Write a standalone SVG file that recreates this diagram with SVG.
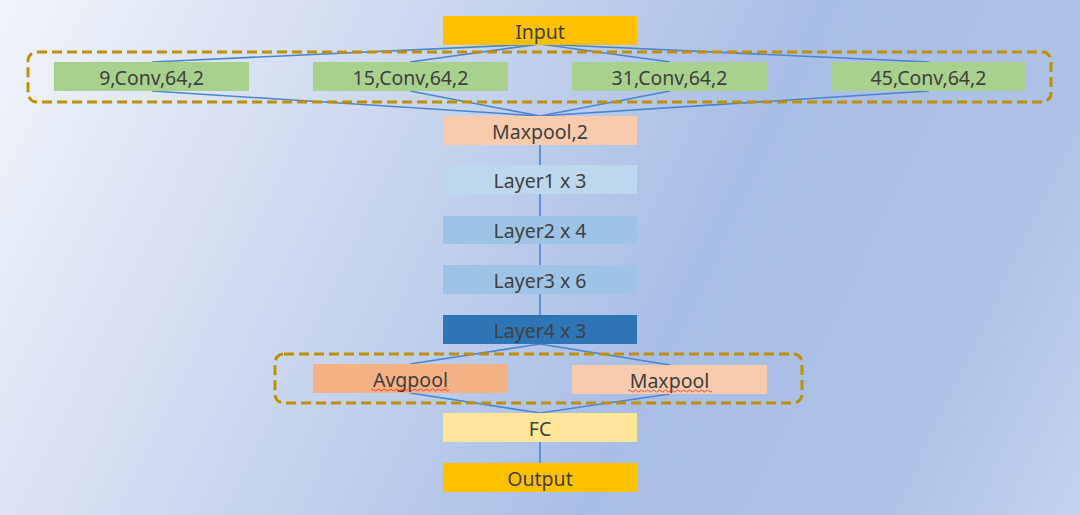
<svg xmlns="http://www.w3.org/2000/svg" width="1080" height="515" viewBox="0 0 1080 515">
<defs>
<linearGradient id="bg" x1="0" y1="0" x2="1080" y2="515" gradientUnits="userSpaceOnUse">
<stop offset="0" stop-color="#F1F4FB"/>
<stop offset="0.35" stop-color="#C9D6EE"/>
<stop offset="0.62" stop-color="#A9BEE6"/>
<stop offset="0.85" stop-color="#AEC2E7"/>
<stop offset="1" stop-color="#C4D3EE"/>
</linearGradient>
<style>
.lbl{font-family:"Noto Sans","Liberation Sans",sans-serif;font-size:19.5px;fill:#404040;text-anchor:middle;dominant-baseline:central}
.grp{fill:none;stroke:#BF9000;stroke-width:3;stroke-dasharray:10,5}
.ln{stroke:#4A86D0;stroke-width:1.6;fill:none}
.sq{stroke:#E03030;stroke-width:0.8;fill:none}
</style>
</defs>
<rect width="1080" height="515" fill="url(#bg)"/>
<g id="connectors">
<line class="ln" x1="540" y1="44" x2="152" y2="62"/>
<line class="ln" x1="540" y1="44" x2="410" y2="62"/>
<line class="ln" x1="540" y1="44" x2="670" y2="62"/>
<line class="ln" x1="540" y1="44" x2="929" y2="62"/>
<line class="ln" x1="152" y1="91" x2="540" y2="116"/>
<line class="ln" x1="410" y1="91" x2="540" y2="116"/>
<line class="ln" x1="670" y1="91" x2="540" y2="116"/>
<line class="ln" x1="929" y1="91" x2="540" y2="116"/>
<line class="ln" x1="540" y1="145" x2="540" y2="165"/>
<line class="ln" x1="540" y1="194" x2="540" y2="216"/>
<line class="ln" x1="540" y1="244" x2="540" y2="265"/>
<line class="ln" x1="540" y1="294" x2="540" y2="315"/>
<line class="ln" x1="540" y1="344" x2="410" y2="364"/>
<line class="ln" x1="540" y1="344" x2="670" y2="365"/>
<line class="ln" x1="410" y1="393" x2="540" y2="413"/>
<line class="ln" x1="670" y1="394" x2="540" y2="413"/>
<line class="ln" x1="540" y1="442" x2="540" y2="463"/>
</g>
<g id="input"><rect x="443" y="16" width="194" height="29" fill="#FFC000"/><text class="lbl" x="540" y="31">Input</text></g>
<g id="conv9"><rect x="54" y="62" width="195" height="29" fill="#A9D18E"/><text class="lbl" x="151.5" y="77">9,Conv,64,2</text></g>
<g id="conv15"><rect x="313" y="62" width="195" height="29" fill="#A9D18E"/><text class="lbl" x="410.5" y="77">15,Conv,64,2</text></g>
<g id="conv31"><rect x="572" y="62" width="195" height="29" fill="#A9D18E"/><text class="lbl" x="669.5" y="77">31,Conv,64,2</text></g>
<g id="conv45"><rect x="831" y="62" width="195" height="29" fill="#A9D18E"/><text class="lbl" x="928.5" y="77">45,Conv,64,2</text></g>
<g id="convgroup"><rect class="grp" x="28" y="52" width="1023" height="50" rx="9"/></g>
<g id="maxpool2"><rect x="443" y="116" width="194" height="29" fill="#F8CBAD"/><text class="lbl" x="540" y="131">Maxpool,2</text></g>
<g id="layer1"><rect x="443" y="165" width="194" height="29" fill="#BDD7EE"/><text class="lbl" x="540" y="180">Layer1 x 3</text></g>
<g id="layer2"><rect x="443" y="216" width="194" height="28" fill="#9DC3E6"/><text class="lbl" x="540" y="230">Layer2 x 4</text></g>
<g id="layer3"><rect x="443" y="265" width="194" height="29" fill="#9DC3E6"/><text class="lbl" x="540" y="280">Layer3 x 6</text></g>
<g id="layer4"><rect x="443" y="315" width="194" height="29" fill="#2E75B6"/><text class="lbl" x="540" y="330">Layer4 x 3</text></g>
<g id="avgpool"><rect x="313" y="364" width="195" height="29" fill="#F4B183"/><text class="lbl" x="410.5" y="379">Avgpool</text>
<path class="sq" d="M371 390 q1.5 -2 3 0 t3 0 t3 0 t3 0 t3 0 t3 0 t3 0 t3 0 t3 0 t3 0 t3 0 t3 0 t3 0 t3 0 t3 0 t3 0 t3 0 t3 0 t3 0 t3 0 t3 0 t3 0 t3 0 t3 0 t3 0 t3 0"/></g>
<g id="maxpool"><rect x="572" y="365" width="195" height="29" fill="#F8CBAD"/><text class="lbl" x="669.5" y="380">Maxpool</text>
<path class="sq" d="M628 391 q1.5 -2 3 0 t3 0 t3 0 t3 0 t3 0 t3 0 t3 0 t3 0 t3 0 t3 0 t3 0 t3 0 t3 0 t3 0 t3 0 t3 0 t3 0 t3 0 t3 0 t3 0 t3 0 t3 0 t3 0 t3 0 t3 0 t3 0 t3 0 t3 0"/></g>
<g id="poolgroup"><rect class="grp" x="275" y="354" width="527" height="49" rx="9"/></g>
<g id="fc"><rect x="443" y="413" width="194" height="29" fill="#FFE699"/><text class="lbl" x="540" y="428">FC</text></g>
<g id="output"><rect x="443" y="463" width="194" height="29" fill="#FFC000"/><text class="lbl" x="540" y="478">Output</text></g>
</svg>
